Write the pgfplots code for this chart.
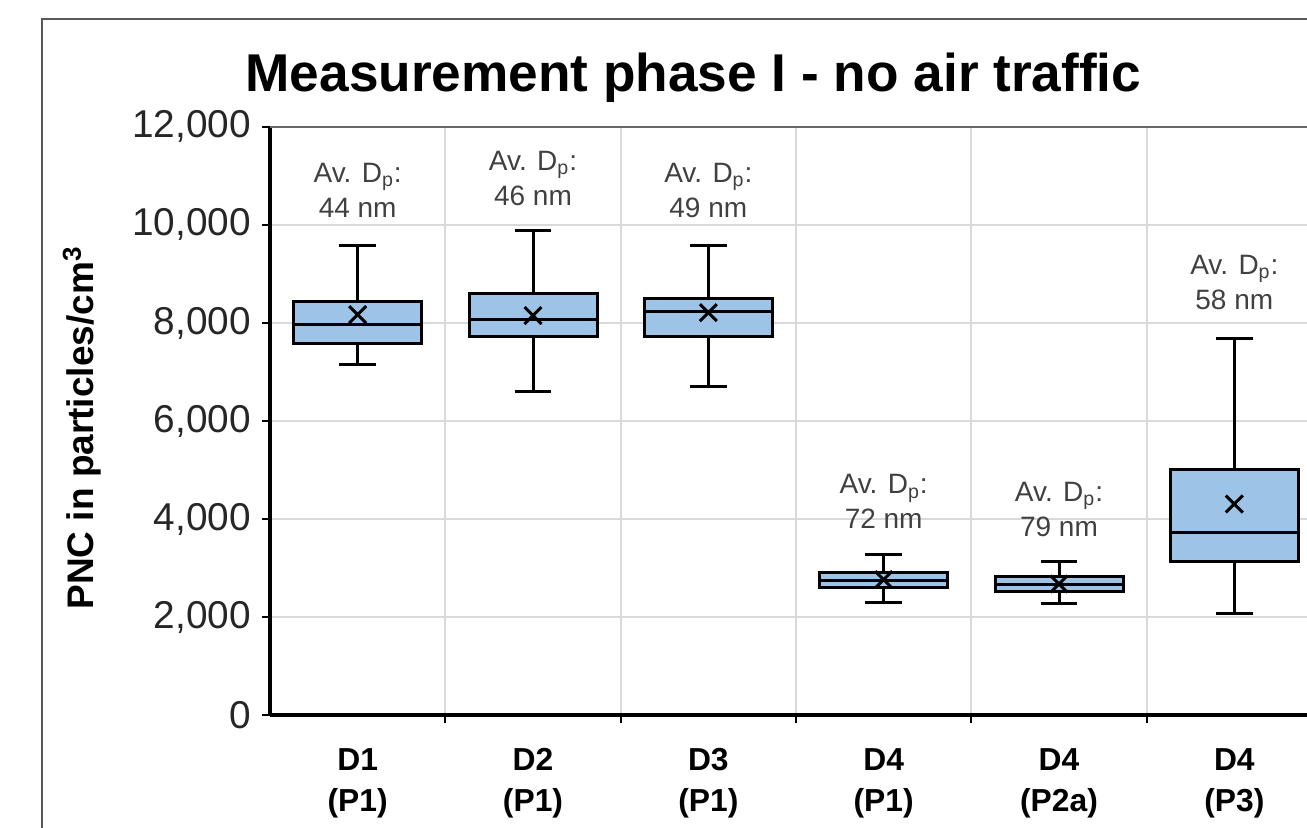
\documentclass[border=0pt]{standalone}
\usepackage{fontspec}
\setmainfont{Liberation Sans}
\usepackage{pgfplots}
\pgfplotsset{compat=1.18}
\usepgfplotslibrary{statistics}
\definecolor{boxblue}{HTML}{9DC3E6}
\definecolor{gridgray}{HTML}{D9D9D9}
\definecolor{framegray}{HTML}{595959}
\tikzset{ann/.style={font=\fontsize{14}{17.5}\selectfont, text=black!75, align=center}}

\begin{document}
\begin{tikzpicture}
\begin{axis}[
    at={(135pt,56.25pt)}, anchor=south west,
    scale only axis, width=526pt, height=294.4pt,
    xmin=0.5, xmax=6.5, ymin=0, ymax=12000,
    axis x line*=bottom, axis y line*=left,
    axis line style={line width=2pt, black},
    xtick={1,...,6},
    xticklabels={{D1\\(P1)},{D2\\(P1)},{D3\\(P1)},{D4\\(P1)},{D4\\(P2a)},{D4\\(P3)}},
    xticklabel style={align=center, font=\fontsize{15.9}{20.5}\selectfont\bfseries, yshift=-9pt},
    major x tick style={draw=none},
    minor xtick={1.5,2.5,3.5,4.5,5.5,6.5},
    xminorgrids,
    ytick={0,2000,...,12000},
    scaled y ticks=false,
    ymajorgrids,
    grid style={gridgray, line width=1pt},
    minor grid style={gridgray, line width=1pt},
    tick align=outside,
    major tick length=4pt, minor tick length=4pt,
    tick style={black, line width=1pt},
    /pgf/number format/.cd, fixed, 1000 sep={,}, assume math mode=true,
    /pgfplots/.cd,
    yticklabel style={font=\fontsize{19.4}{22}\selectfont, text=black!85, xshift=-2pt},
    boxplot/draw direction=y,
]
\addplot[draw=black, fill=boxblue, line width=1.5pt, boxplot prepared={draw position=1,
    lower whisker=7150, lower quartile=7590, median=7960, upper quartile=8440, upper whisker=9580,
    box extend=0.73, whisker extend=0.21}] coordinates {};
\addplot[draw=black, fill=boxblue, line width=1.5pt, boxplot prepared={draw position=2,
    lower whisker=6610, lower quartile=7720, median=8080, upper quartile=8600, upper whisker=9890,
    box extend=0.73, whisker extend=0.21}] coordinates {};
\addplot[draw=black, fill=boxblue, line width=1.5pt, boxplot prepared={draw position=3,
    lower whisker=6700, lower quartile=7720, median=8230, upper quartile=8500, upper whisker=9570,
    box extend=0.73, whisker extend=0.21}] coordinates {};
\addplot[draw=black, fill=boxblue, line width=1.5pt, boxplot prepared={draw position=4,
    lower whisker=2310, lower quartile=2610, median=2760, upper quartile=2910, upper whisker=3290,
    box extend=0.73, whisker extend=0.21}] coordinates {};
\addplot[draw=black, fill=boxblue, line width=1.5pt, boxplot prepared={draw position=5,
    lower whisker=2290, lower quartile=2520, median=2670, upper quartile=2830, upper whisker=3130,
    box extend=0.73, whisker extend=0.21}] coordinates {};
\addplot[draw=black, fill=boxblue, line width=1.5pt, boxplot prepared={draw position=6,
    lower whisker=2080, lower quartile=3130, median=3730, upper quartile=5010, upper whisker=7690,
    box extend=0.73, whisker extend=0.21}] coordinates {};
% averages
\addplot[only marks, mark=x, mark size=6pt, mark options={line width=1.5pt, draw=black}]
    coordinates {(1,8170) (2,8150) (3,8210) (4,2770) (5,2680) (6,4310)};

\node[ann] at (axis cs:1,10708) {Av. D\textsubscript{p}:\\44 nm};
\node[ann] at (axis cs:2,10941) {Av. D\textsubscript{p}:\\46 nm};
\node[ann] at (axis cs:3,10697) {Av. D\textsubscript{p}:\\49 nm};
\node[ann] at (axis cs:4,4360) {Av. D\textsubscript{p}:\\72 nm};
\node[ann] at (axis cs:5,4207) {Av. D\textsubscript{p}:\\79 nm};
\node[ann] at (axis cs:6,8833) {Av. D\textsubscript{p}:\\58 nm};
\end{axis}

% top edge of the plot area
\draw[black!60, line width=1pt] (135pt,350.65pt) -- (700pt,350.65pt);
% outer frame
\draw[framegray, line width=1.2pt] (21pt,-10pt) -- (21pt,404.5pt) -- (700pt,404.5pt);

\node[anchor=base, font=\fontsize{26.6}{30}\selectfont\bfseries] at (346.75pt,368pt)
    {Measurement phase I - no air traffic};
\node[rotate=90, font=\fontsize{18.5}{22}\selectfont\bfseries] at (41pt,200pt)
    {PNC in particles/cm\textsuperscript{3}};

\pgfresetboundingbox
\useasboundingbox (0,0) rectangle (653.5pt,414pt);
\end{tikzpicture}
\end{document}
